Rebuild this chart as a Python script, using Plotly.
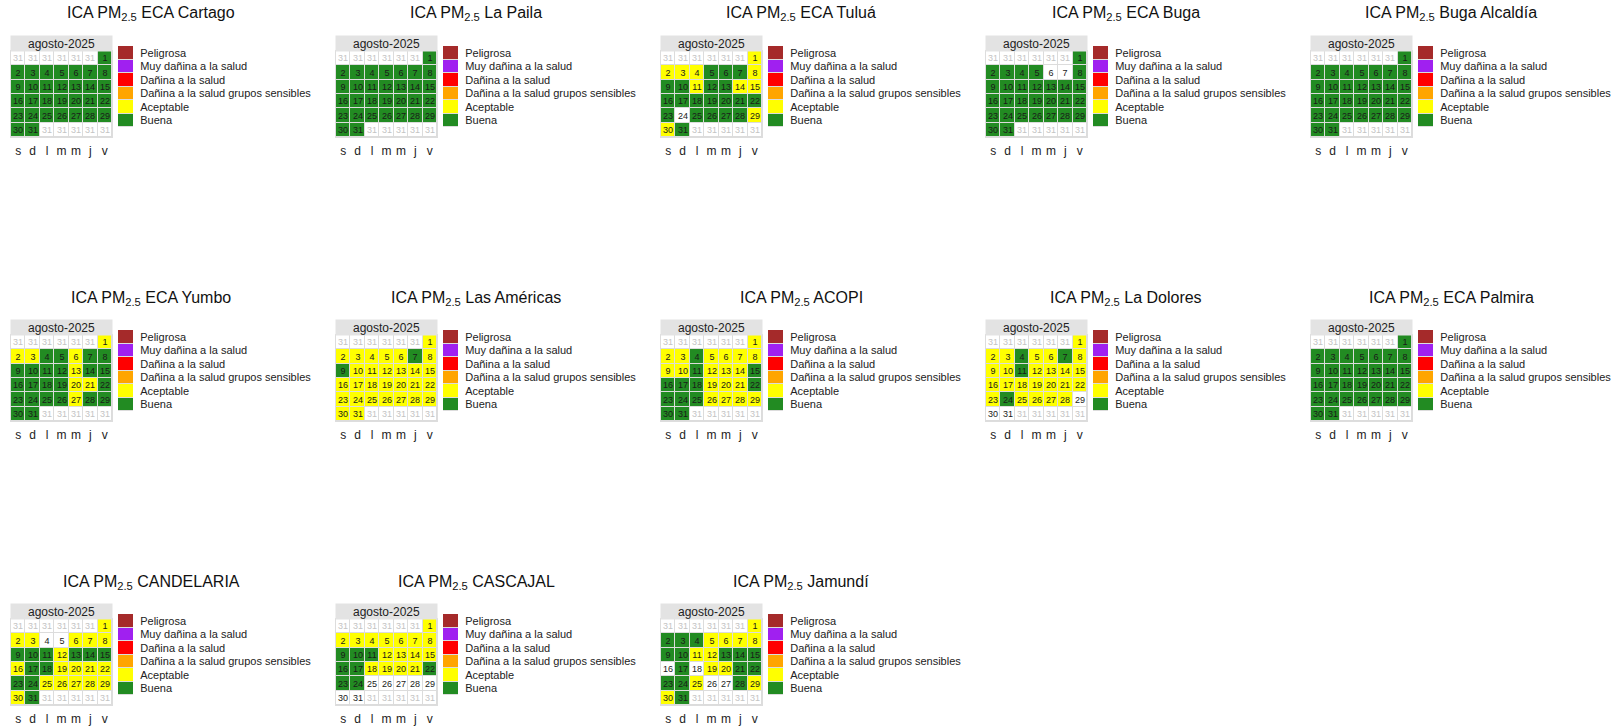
import datetime as dt
import plotly.graph_objects as go

W, H = 1617, 726

anio, mes_num = 2025, 8
mes = 'agosto-2025'
dias_semana = ['s', 'd', 'l', 'm', 'm', 'j', 'v']
categorias = ['Peligrosa', 'Muy dañina a la salud', 'Dañina a la salud',
              'Dañina a la salud grupos sensibles', 'Aceptable', 'Buena']
# '-' sin dato, B buena, A aceptable, S sensibles, D dañina, M muy dañina, P peligrosa
codigos = ['-', 'B', 'A', 'S', 'D', 'M', 'P']
colores = ['#FFFFFF', '#228B22', '#FFFF00', '#FFA500', '#FF0000', '#A020F0', '#A52A2A']

estaciones = ['ECA Cartago', 'La Paila', 'ECA Tuluá', 'ECA Buga', 'Buga Alcaldía',
              'ECA Yumbo', 'Las Américas', 'ACOPI', 'La Dolores', 'ECA Palmira',
              'CANDELARIA', 'CASCAJAL', 'Jamundí']

# dia 1..31
cartago = ['B', 'B', 'B', 'B', 'B', 'B', 'B', 'B', 'B', 'B', 'B', 'B', 'B', 'B', 'B', 'B',
           'B', 'B', 'B', 'B', 'B', 'B', 'B', 'B', 'B', 'B', 'B', 'B', 'B', 'B', 'B']
la_paila = ['B', 'B', 'B', 'B', 'B', 'B', 'B', 'B', 'B', 'B', 'B', 'B', 'B', 'B', 'B', 'B',
            'B', 'B', 'B', 'B', 'B', 'B', 'B', 'B', 'B', 'B', 'B', 'B', 'B', 'B', 'B']
tulua = ['A', 'A', 'A', 'A', 'B', 'B', 'B', 'A', 'B', 'B', 'A', 'B', 'B', 'A', 'A', 'B',
         'B', 'B', 'B', 'B', 'B', 'B', 'B', '-', 'B', 'B', 'B', 'B', 'A', 'A', 'B']
buga = ['B', 'B', 'B', 'B', 'B', '-', '-', 'B', 'B', 'B', 'B', 'B', 'B', 'B', 'B', 'B',
        'B', 'B', 'B', 'B', 'B', 'B', 'B', 'B', 'B', 'B', 'B', 'B', 'B', 'B', 'B']
buga_alcaldia = ['B', 'B', 'B', 'B', 'B', 'B', 'B', 'B', 'B', 'B', 'B', 'B', 'B', 'B', 'B', 'B',
                 'B', 'B', 'B', 'B', 'B', 'B', 'B', 'B', 'B', 'B', 'B', 'B', 'B', 'B', 'B']
yumbo = ['A', 'A', 'A', 'B', 'B', 'A', 'B', 'B', 'B', 'B', 'B', 'B', 'A', 'B', 'B', 'B',
         'B', 'B', 'B', 'A', 'A', 'B', 'B', 'B', 'B', 'B', 'A', 'B', 'B', 'B', 'B']
las_americas = ['A', 'A', 'A', 'A', 'A', 'A', 'B', 'A', 'B', 'A', 'A', 'A', 'A', 'A', 'A', 'A',
                'A', 'A', 'A', 'A', 'A', 'A', 'A', 'A', 'A', 'A', 'A', 'A', 'A', 'A', 'A']
acopi = ['A', 'A', 'A', 'B', 'A', 'A', 'A', 'A', 'A', 'A', 'B', 'A', 'A', 'A', 'B', 'B',
         'B', 'B', 'A', 'A', 'A', 'B', 'B', 'B', 'B', 'A', 'A', 'A', 'A', 'B', 'B']
la_dolores = ['A', 'A', 'A', 'B', 'A', 'A', 'B', 'A', 'A', 'A', 'B', 'A', 'A', 'A', 'A', 'A',
              'A', 'A', 'A', 'A', 'A', 'A', 'A', 'B', 'A', 'A', 'A', 'A', '-', '-', '-']
palmira = ['B', 'B', 'B', 'B', 'B', 'B', 'B', 'B', 'B', 'B', 'B', 'B', 'B', 'B', 'B', 'B',
           'B', 'B', 'B', 'B', 'B', 'B', 'B', 'B', 'B', 'B', 'B', 'B', 'B', 'B', 'B']
candelaria = ['A', 'A', 'A', '-', '-', 'A', 'A', 'A', 'B', 'B', 'B', 'A', 'B', 'B', 'B', 'A',
              'B', 'B', 'A', 'A', 'A', 'A', 'B', 'B', 'A', 'A', 'A', 'A', 'A', 'A', 'B']
cascajal = ['A', 'A', 'A', 'A', 'A', 'A', 'A', 'A', 'B', 'B', 'B', 'A', 'A', 'A', 'A', 'B',
            'B', 'A', 'A', 'A', 'A', 'B', 'B', 'B', '-', '-', '-', '-', '-', '-', '-']
jamundi = ['A', 'B', 'B', 'B', 'A', 'A', 'A', 'A', 'B', 'B', 'A', 'A', 'B', 'B', 'B', '-',
           'B', '-', 'A', 'A', 'B', 'B', 'B', 'B', 'A', '-', '-', 'B', 'A', 'A', 'B']

series = [cartago, la_paila, tulua, buga, buga_alcaldia, yumbo, las_americas,
          acopi, la_dolores, palmira, candelaria, cascajal, jamundi]

# escala discreta
n = len(colores)
escala = []
for k, c in enumerate(colores):
    escala += [[k / n, c], [(k + 1) / n, c]]


def calendario(valores):
    '''matriz 6x7 de semanas (sabado primero)'''
    z = [[None] * 7 for _ in range(6)]
    txt = [[''] * 7 for _ in range(6)]
    z_out = [[0] * 7 for _ in range(6)]
    txt_out = [['31'] * 7 for _ in range(6)]
    off = (dt.date(anio, mes_num, 1).weekday() + 2) % 7
    for i, v in enumerate(valores):
        d = dt.date(anio, mes_num, i + 1)
        col = (d.weekday() + 2) % 7
        fila = (i + off) // 7
        z[fila][col] = codigos.index(v)
        txt[fila][col] = str(i + 1)
        z_out[fila][col] = None
        txt_out[fila][col] = ''
    return z, txt, z_out, txt_out


fig = go.Figure()
layout = {}
ax = 0
for p, (nombre, valores) in enumerate(zip(estaciones, series)):
    r, c = divmod(p, 5)
    x0 = 11 + 325 * c
    top = 36 + 284 * r
    z, txt, z_out, txt_out = calendario(valores)

    ax += 1
    xa, ya = ('x%d' % ax, 'y%d' % ax)
    fig.add_trace(go.Heatmap(z=z_out, text=txt_out, texttemplate='%{text}',
                             textfont=dict(size=9, color='#c4c4c4'),
                             colorscale=[[0, 'white'], [1, 'white']], showscale=False,
                             xgap=1, ygap=1, hoverinfo='skip', xaxis=xa, yaxis=ya))
    fig.add_trace(go.Heatmap(z=z, text=txt, texttemplate='%{text}',
                             textfont=dict(size=9, color='#1a1a1a'),
                             colorscale=escala, zmin=-0.5, zmax=n - 0.5, showscale=False,
                             xgap=1, ygap=1, xaxis=xa, yaxis=ya))
    layout['xaxis%d' % ax] = dict(
        domain=[x0 / W, (x0 + 101) / W], anchor=ya, range=[-0.5, 6.5],
        tickvals=list(range(7)), ticktext=dias_semana, ticks='outside', ticklen=3,
        tickcolor='rgba(0,0,0,0)', tickfont=dict(size=12, color='#222'),
        showgrid=False, zeroline=False, showline=True, linecolor='#dddddd', mirror=True,
        fixedrange=True)
    layout['yaxis%d' % ax] = dict(
        domain=[1 - (top + 101) / H, 1 - (top + 15) / H], anchor=xa, range=[5.5, -0.5],
        showticklabels=False, showgrid=False, zeroline=False, showline=True,
        linecolor='#dddddd', mirror=True, fixedrange=True)

    # leyenda
    ax += 1
    xl, yl = ('x%d' % ax, 'y%d' % ax)
    fig.add_trace(go.Heatmap(z=[[6], [5], [4], [3], [2], [1]], colorscale=escala,
                             zmin=-0.5, zmax=n - 0.5, showscale=False, ygap=1,
                             hoverinfo='skip', xaxis=xl, yaxis=yl))
    layout['xaxis%d' % ax] = dict(
        domain=[(x0 + 107) / W, (x0 + 122) / W], anchor=yl, visible=False,
        range=[-0.5, 0.5], fixedrange=True)
    layout['yaxis%d' % ax] = dict(
        domain=[1 - (top + 91) / H, 1 - (top + 10) / H], anchor=xl, side='right',
        range=[5.5, -0.5], tickvals=list(range(6)), ticktext=categorias,
        ticks='outside', ticklen=4, tickcolor='rgba(0,0,0,0)',
        tickfont=dict(size=11, color='#222'), showgrid=False, zeroline=False,
        fixedrange=True)

    # titulo y cabecera del mes
    fig.add_annotation(text='ICA PM<sub>2.5</sub> ' + nombre, xref='paper', yref='paper',
                       x=(x0 + 140) / W, y=1 - (top - 22) / H, showarrow=False,
                       font=dict(size=16, color='#111'), xanchor='center', yanchor='middle')
    fig.add_annotation(text=mes, xref='paper', yref='paper',
                       x=(x0 + 50.5) / W, y=1 - (top + 7.5) / H, showarrow=False,
                       width=101, height=15, borderpad=0, bgcolor='#e3e3e3',
                       font=dict(size=12, color='#222'), xanchor='center', yanchor='middle')

fig.update_layout(**layout)
fig.update_layout(width=W, height=H, margin=dict(l=0, r=0, t=0, b=0),
                  paper_bgcolor='white', plot_bgcolor='#dcdcdc', showlegend=False,
                  font=dict(family='Liberation Sans, Arial, sans-serif'))
# sin margen del body para que la figura ocupe la ventana completa
fig.write_html('out.html', config={'displayModeBar': False},
               post_script="document.body.style.margin='0';")
